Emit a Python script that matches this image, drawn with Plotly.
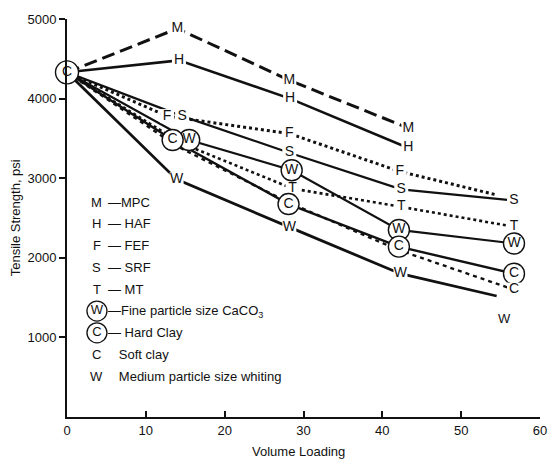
import plotly.graph_objects as go

FONT = "Liberation Sans, Arial, sans-serif"
INK = "#111111"

# Tensile strength (psi) against filler volume loading, one list pair per filler
x_mpc = [0, 14.0, 28.2, 43.3]
y_mpc = [4330, 4880, 4230, 3630]

x_haf = [0, 14.2, 28.3, 43.3]
y_haf = [4330, 4480, 4000, 3380]

x_fef = [0, 12.7, 28.2, 42.2, 54.5]
y_fef = [4330, 3780, 3560, 3085, 2790]

x_srf = [0, 14.6, 28.2, 42.4, 56.7]
y_srf = [4330, 3780, 3320, 2860, 2720]

x_mt = [0, 14.5, 28.6, 42.4, 56.7]
y_mt = [4330, 3440, 2870, 2640, 2390]

x_caco3 = [0, 15.5, 28.5, 42.1, 56.7]
y_caco3 = [4330, 3480, 3100, 2350, 2180]

x_hard = [0, 13.4, 28.1, 42.1, 56.7]
y_hard = [4330, 3480, 2675, 2140, 1800]

x_soft = [0, 14.0, 28.0, 42.0, 56.7]
y_soft = [4330, 3400, 2700, 2100, 1600]

x_whit = [0, 13.9, 28.2, 42.3, 54.5]
y_whit = [4330, 2985, 2385, 1800, 1520]

x_ticks = [0, 10, 20, 30, 40, 50, 60]
y_ticks = [1000, 2000, 3000, 4000, 5000]

legend_rows = [
    ("M", False, "—MPC"),
    ("H", False, "— HAF"),
    ("F", False, "— FEF"),
    ("S", False, "— SRF"),
    ("T", False, "— MT"),
    ("W", True, "—Fine particle size CaCO<sub>3</sub>"),
    ("C", True, "— Hard Clay"),
    ("C", False, "   Soft clay"),
    ("W", False, "   Medium particle size whiting"),
]

# letter, x, y, line width, dash, circled, indices of points carrying a label
series = [
    ("M", x_mpc, y_mpc, 3.0, "13px,6px", False, [1, 2, 3]),
    ("H", x_haf, y_haf, 2.6, "solid", False, [1, 2, 3]),
    ("F", x_fef, y_fef, 3.0, "dot", False, [1, 2, 3]),
    ("S", x_srf, y_srf, 2.2, "solid", False, [1, 2, 3, 4]),
    ("T", x_mt, y_mt, 2.6, "dot", False, [2, 3, 4]),
    ("W", x_caco3, y_caco3, 2.2, "solid", True, [1, 2, 3, 4]),
    ("C", x_hard, y_hard, 2.4, "solid", True, [1, 2, 3, 4]),
    ("C", x_soft, y_soft, 2.4, "4px,4px", False, [4]),
    ("W", x_whit, y_whit, 2.8, "solid", False, [1, 2, 3]),
]

fig = go.Figure()

for letter, xs, ys, w, dash, circled, idx in series:
    fig.add_trace(go.Scatter(
        x=xs, y=ys, mode="lines",
        line=dict(color=INK, width=w, dash=dash),
        hoverinfo="skip", showlegend=False, cliponaxis=False,
    ))

for letter, xs, ys, w, dash, circled, idx in series:
    lx = [xs[i] for i in idx]
    ly = [ys[i] for i in idx]
    if circled:
        marker = dict(symbol="circle", size=21, color="white",
                      line=dict(color=INK, width=1.4))
    else:
        marker = dict(symbol="square", size=14, color="white",
                      line=dict(width=0))
    fig.add_trace(go.Scatter(
        x=lx, y=ly, mode="markers+text", text=[letter] * len(lx),
        textposition="middle center", marker=marker,
        textfont=dict(family=FONT, size=14, color=INK),
        hoverinfo="skip", showlegend=False, cliponaxis=False,
    ))

# common starting point
fig.add_trace(go.Scatter(
    x=[x_hard[0]], y=[y_hard[0]], mode="markers+text", text=["C"],
    textposition="middle center",
    marker=dict(symbol="circle", size=23, color="white",
                line=dict(color=INK, width=1.4)),
    textfont=dict(family=FONT, size=14, color=INK),
    hoverinfo="skip", showlegend=False, cliponaxis=False,
))

# whiting end label sits below the end of its line
fig.add_annotation(x=x_whit[-1], y=y_whit[-1], text="W", showarrow=False,
                   xshift=8, yshift=-22,
                   font=dict(family=FONT, size=13, color=INK))

# key listing the fillers
row_px0, row_step = 200, 22
for k, (letter, circ, label) in enumerate(legend_rows):
    py = row_px0 + k * row_step
    yp = (417 - py) / 402
    if circ:
        fig.add_trace(go.Scatter(
            x=[3.8], y=[(417 - py) * 12.44],
            mode="markers+text", text=[letter], textposition="middle center",
            marker=dict(symbol="circle", size=20, color="white",
                        line=dict(color=INK, width=1.3)),
            textfont=dict(family=FONT, size=13, color=INK),
            hoverinfo="skip", showlegend=False,
        ))
    else:
        fig.add_annotation(xref="paper", yref="paper", x=(97 - 67) / 476,
                           y=yp, text=letter, showarrow=False,
                           xanchor="center", yanchor="middle",
                           font=dict(family=FONT, size=13, color=INK))
    fig.add_annotation(xref="paper", yref="paper", x=(106 - 67) / 476, y=yp,
                       text=label, showarrow=False, xanchor="left",
                       yanchor="middle",
                       font=dict(family=FONT, size=13, color=INK))

fig.add_annotation(xref="paper", yref="paper", x=(15 - 67) / 476, y=0.5,
                   text="Tensile Strength, psi", textangle=-90,
                   showarrow=False, xanchor="center", yanchor="middle",
                   font=dict(family=FONT, size=13, color=INK))
fig.add_annotation(xref="paper", yref="paper", x=(300 - 67) / 476,
                   y=(417 - 452) / 402, text="Volume Loading",
                   showarrow=False, xanchor="center", yanchor="middle",
                   font=dict(family=FONT, size=13, color=INK))

fig.update_xaxes(range=[0, 60], tickvals=x_ticks, showgrid=False,
                 zeroline=False, showline=True, linecolor=INK, linewidth=2,
                 ticks="inside", ticklen=6, tickwidth=2, tickcolor=INK,
                 tickfont=dict(family=FONT, size=13, color=INK))
fig.update_yaxes(range=[0, 5000], tickvals=y_ticks, showgrid=False,
                 zeroline=False, showline=True, linecolor=INK, linewidth=2,
                 ticks="outside", ticklen=6, tickwidth=2, tickcolor=INK,
                 tickfont=dict(family=FONT, size=13, color=INK))

fig.update_layout(
    width=559, height=463,
    margin=dict(l=67, r=16, t=15, b=46),
    paper_bgcolor="white", plot_bgcolor="white",
    showlegend=False,
)

fig.write_html("out.html")
